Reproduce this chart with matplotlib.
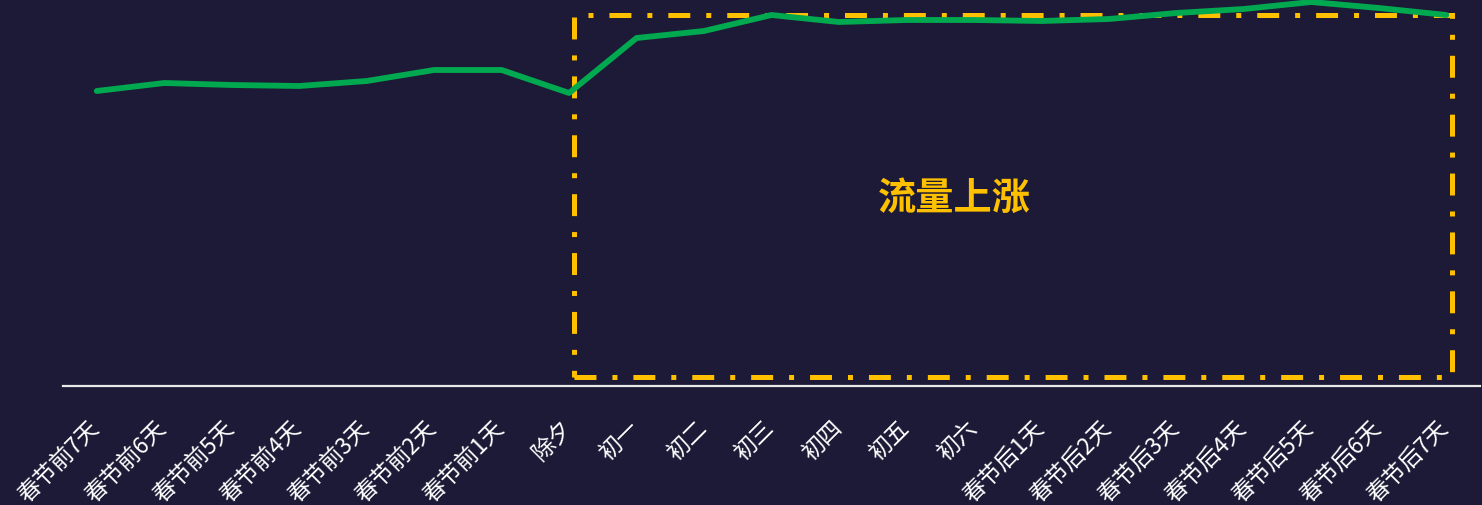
import matplotlib
matplotlib.use("Agg")
import matplotlib.pyplot as plt
import matplotlib.transforms as mtransforms
from matplotlib.patches import Rectangle

plt.rcParams['font.family'] = ['Noto Sans CJK SC', 'DejaVu Sans']
plt.rcParams['lines.scale_dashes'] = False

days = ["春节前7天", "春节前6天", "春节前5天", "春节前4天", "春节前3天", "春节前2天",
        "春节前1天", "除夕", "初一", "初二", "初三", "初四", "初五", "初六",
        "春节后1天", "春节后2天", "春节后3天", "春节后4天", "春节后5天",
        "春节后6天", "春节后7天"]
traffic = [295, 303, 301, 300, 305, 316, 316, 293, 348, 355, 371, 364, 366,
           366, 365, 367, 373, 377, 384, 378, 371]

highlight_start, highlight_end = 7.07, 20.09
highlight_low, highlight_high = 9, 371
highlight_label = "流量上涨"

BG = "#1c1a36"
GREEN = "#00a84f"
YELLOW = "#ffc000"

fig = plt.figure(figsize=(14.82, 5.05), dpi=100, facecolor=BG)
ax = fig.add_axes([63 / 1482, (505 - 386) / 505, 1417 / 1482, 386 / 505])
ax.set_facecolor(BG)

x = list(range(len(days)))
ax.plot(x, traffic, color=GREEN, lw=4.2, solid_capstyle="round",
        solid_joinstyle="round", clip_on=False, zorder=3)

rect = Rectangle((highlight_start, highlight_low), highlight_end - highlight_start,
                 highlight_high - highlight_low, fill=False, edgecolor=YELLOW,
                 lw=3.6, linestyle=(0, (15.8, 11.5, 3.6, 11.5)), clip_on=False,
                 zorder=2)
ax.add_patch(rect)

ax.text(12.71, 188, highlight_label,
        color=YELLOW, fontsize=27.5, fontweight="bold", ha="center", va="center")

ax.set_xlim(-0.5, 20.5)
ax.set_ylim(0, 386)

for side in ("top", "right", "left"):
    ax.spines[side].set_visible(False)
ax.spines["bottom"].set_color("#e8e8e8")
ax.spines["bottom"].set_linewidth(1.6)
ax.set_yticks([])
ax.set_xticks(x)
ax.set_xticklabels(days, rotation=45, ha="right", va="center",
                   rotation_mode="anchor", color="white", fontsize=16.5)
ax.tick_params(axis="x", length=0, pad=0)
offset = mtransforms.ScaledTranslation(-1 / 100, -39 / 100, fig.dpi_scale_trans)
for lab in ax.get_xticklabels():
    lab.set_transform(lab.get_transform() + offset)

fig.savefig("out.png", dpi=100, facecolor=BG)
